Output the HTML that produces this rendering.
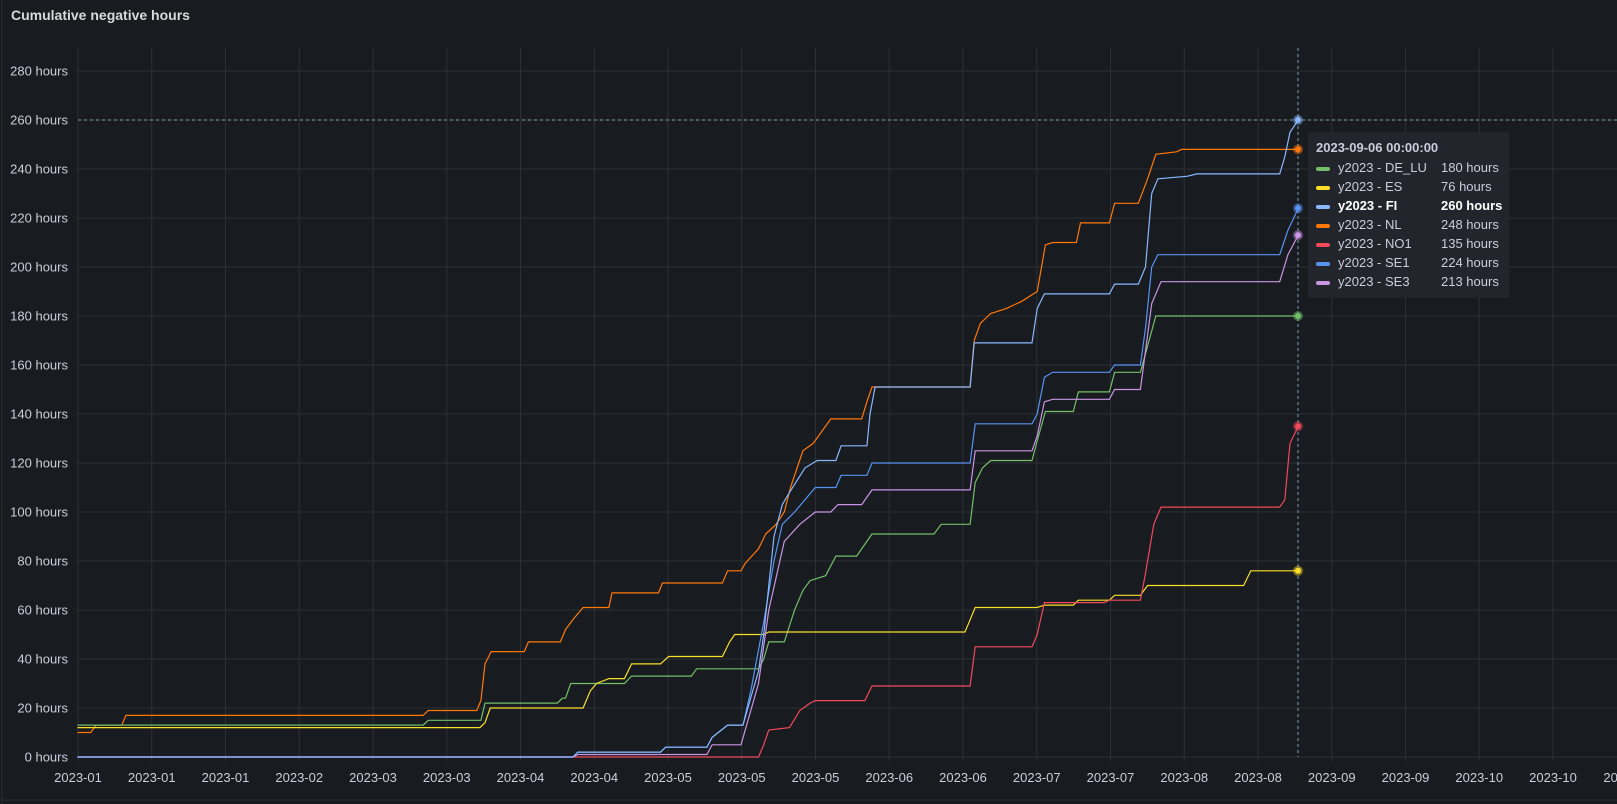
<!DOCTYPE html>
<html><head><meta charset="utf-8">
<style>
html,body{margin:0;padding:0;background:#181b1f;}
body{width:1617px;height:804px;overflow:hidden;position:relative;font-family:"Liberation Sans",sans-serif;}
.title{position:absolute;left:11px;top:7px;font-size:14px;color:#d8d9da;font-weight:600;}
svg{position:absolute;left:0;top:0;}
.tip{position:absolute;left:1308px;top:132px;width:201px;height:166px;background:#22252b;border-radius:2px;font-size:13px;color:#ccccdc;}
.tip .h{position:absolute;left:8px;top:8px;font-weight:600;color:#ccccdc;}
.row{position:absolute;left:8px;height:18px;width:190px;}
.row i{position:absolute;left:0;top:7px;width:14px;height:4px;border-radius:2px;}
.row .n{position:absolute;left:22px;top:0;}
.row .v{position:absolute;left:125px;top:0;}
.row.b{font-weight:700;color:#fff;}
</style></head><body>
<div class="title">Cumulative negative hours</div>
<svg id="s" width="1617" height="804" xmlns="http://www.w3.org/2000/svg"></svg>
<div class="tip">
<div class="h">2023-09-06 00:00:00</div>
<div class="row" style="top:28px"><i style="background:#73bf69"></i><span class="n">y2023 - DE_LU</span><span class="v">180 hours</span></div>
<div class="row" style="top:47px"><i style="background:#fade2a"></i><span class="n">y2023 - ES</span><span class="v">76 hours</span></div>
<div class="row b" style="top:66px"><i style="background:#8ab8ff"></i><span class="n">y2023 - FI</span><span class="v">260 hours</span></div>
<div class="row" style="top:85px"><i style="background:#ff780a"></i><span class="n">y2023 - NL</span><span class="v">248 hours</span></div>
<div class="row" style="top:104px"><i style="background:#f2495c"></i><span class="n">y2023 - NO1</span><span class="v">135 hours</span></div>
<div class="row" style="top:123px"><i style="background:#5794f2"></i><span class="n">y2023 - SE1</span><span class="v">224 hours</span></div>
<div class="row" style="top:142px"><i style="background:#ca95e5"></i><span class="n">y2023 - SE3</span><span class="v">213 hours</span></div>
</div>
<script>
var s=document.getElementById('s'),NS='http://www.w3.org/2000/svg',h='';
function Y(v){return 757-v*2.45;}
function X(x){return x*1.032;}
h+='<line x1="2" y1="0" x2="2" y2="804" stroke="#2a2d33"/>';
h+='<line x1="2" y1="800" x2="1617" y2="800" stroke="#2a2d33"/>';
for(var v=0;v<=280;v+=20){var y=Y(v);h+='<line x1="78" y1="'+y+'" x2="1617" y2="'+y+'" stroke="#2c2f35"/>';
h+='<text x="68" y="'+(y+4.5)+'" text-anchor="end" font-size="13" fill="#ccccdc" font-family="Liberation Sans">'+v+' hours</text>';}
var labs=['2023-01','2023-01','2023-01','2023-02','2023-03','2023-03','2023-04','2023-04','2023-05','2023-05','2023-05','2023-06','2023-06','2023-07','2023-07','2023-08','2023-08','2023-09','2023-09','2023-10','2023-10','2023-11'];
for(var i=0;i<22;i++){var x=78+i*73.75;h+='<line x1="'+x+'" y1="48" x2="'+x+'" y2="761" stroke="#2c2f35"/>';
h+='<text x="'+x+'" y="782" text-anchor="middle" font-size="13" fill="#ccccdc" font-family="Liberation Sans">'+labs[i]+'</text>';}
var D={
'#ff780a':[[75,10],[88,10],[93,13],[118,13],[122,17],[410,17],[415,19],[462,19],[466,23],[470,38],[476,43],[508,43],[512,47],[543,47],[548,52],[555,56],[565,61],[590,61],[593,67],[638,67],[642,71],[700,71],[705,76],[718,76],[722,79],[735,85],[742,91],[752,95],[760,100],[766,110],[778,125],[788,128],[805,138],[835,138],[840,145],[845,151],[940,151],[944,170],[950,177],[960,181],[975,183],[990,186],[1005,190],[1013,209],[1020,210],[1043,210],[1047,218],[1075,218],[1080,226],[1103,226],[1112,236],[1120,246],[1140,247],[1145,248],[1258,248]],
'#73bf69':[[75,13],[410,13],[415,15],[466,15],[470,22],[540,22],[545,24],[548,24],[553,30],[605,30],[612,33],[670,33],[675,36],[735,36],[740,40],[745,47],[760,47],[770,60],[778,68],[785,72],[800,74],[810,82],[830,82],[845,91],[905,91],[912,95],[940,95],[945,112],[952,118],[960,121],[1000,121],[1005,129],[1013,141],[1040,141],[1045,149],[1075,149],[1080,157],[1105,157],[1120,180],[1258,180]],
'#fade2a':[[75,12],[465,12],[470,14],[475,20],[565,20],[572,27],[578,30],[590,32],[605,32],[612,38],[640,38],[648,41],[700,41],[707,47],[712,50],[740,50],[745,51],[935,51],[940,56],[945,61],[1005,61],[1012,62],[1040,62],[1045,64],[1075,64],[1080,66],[1105,66],[1112,70],[1205,70],[1212,76],[1258,76]],
'#f2495c':[[75,0],[735,0],[740,5],[745,11],[765,12],[775,19],[785,22],[790,23],[838,23],[845,29],[940,29],[945,45],[1000,45],[1005,50],[1012,63],[1070,63],[1075,64],[1105,64],[1110,75],[1118,95],[1125,102],[1240,102],[1245,105],[1250,128],[1258,135]],
'#ca95e5':[[75,0],[555,0],[560,1],[685,1],[690,5],[718,5],[735,30],[745,60],[760,88],[775,95],[790,100],[805,100],[812,103],[835,103],[845,109],[940,109],[945,125],[1000,125],[1005,131],[1012,145],[1020,146],[1075,146],[1080,150],[1105,150],[1116,185],[1125,194],[1240,194],[1248,205],[1258,213]],
'#5794f2':[[75,0],[555,0],[560,2],[640,2],[645,4],[685,4],[690,8],[705,13],[720,13],[728,28],[740,55],[750,80],[758,95],[770,100],[790,110],[810,110],[815,115],[840,115],[845,120],[940,120],[945,136],[1000,136],[1005,140],[1012,155],[1020,157],[1075,157],[1080,160],[1105,160],[1110,175],[1116,200],[1122,205],[1240,205],[1248,215],[1258,224]],
'#8ab8ff':[[75,0],[555,0],[560,2],[640,2],[645,4],[685,4],[690,8],[705,13],[720,13],[728,25],[735,35],[740,50],[745,70],[750,90],[758,103],[765,108],[780,118],[792,121],[810,121],[815,127],[840,127],[843,140],[848,151],[940,151],[944,169],[1000,169],[1005,183],[1012,189],[1075,189],[1080,193],[1103,193],[1110,200],[1116,230],[1122,236],[1150,237],[1160,238],[1240,238],[1245,245],[1250,255],[1258,260]]};
h+='<line x1="78" y1="'+Y(260)+'" x2="1617" y2="'+Y(260)+'" stroke="#7a9eaf" stroke-dasharray="3,3"/>';
h+='<line x1="1298" y1="48" x2="1298" y2="757" stroke="#7a9eaf" stroke-dasharray="3,3"/>';
for(var c in D){var p=D[c].map(function(q,i){return (i?'L':'M')+X(q[0]).toFixed(1)+','+Y(q[1]).toFixed(1);}).join('');
h+='<path d="'+p+'" fill="none" stroke="'+c+'" stroke-width="1.2"/>';}
for(var c in D){var l=D[c][D[c].length-1];h+='<circle cx="1298" cy="'+Y(l[1])+'" r="5" fill="'+c+'" fill-opacity="0.45"/><circle cx="1298" cy="'+Y(l[1])+'" r="3" fill="'+c+'"/>';}
s.innerHTML=h;
</script>
</body></html>
